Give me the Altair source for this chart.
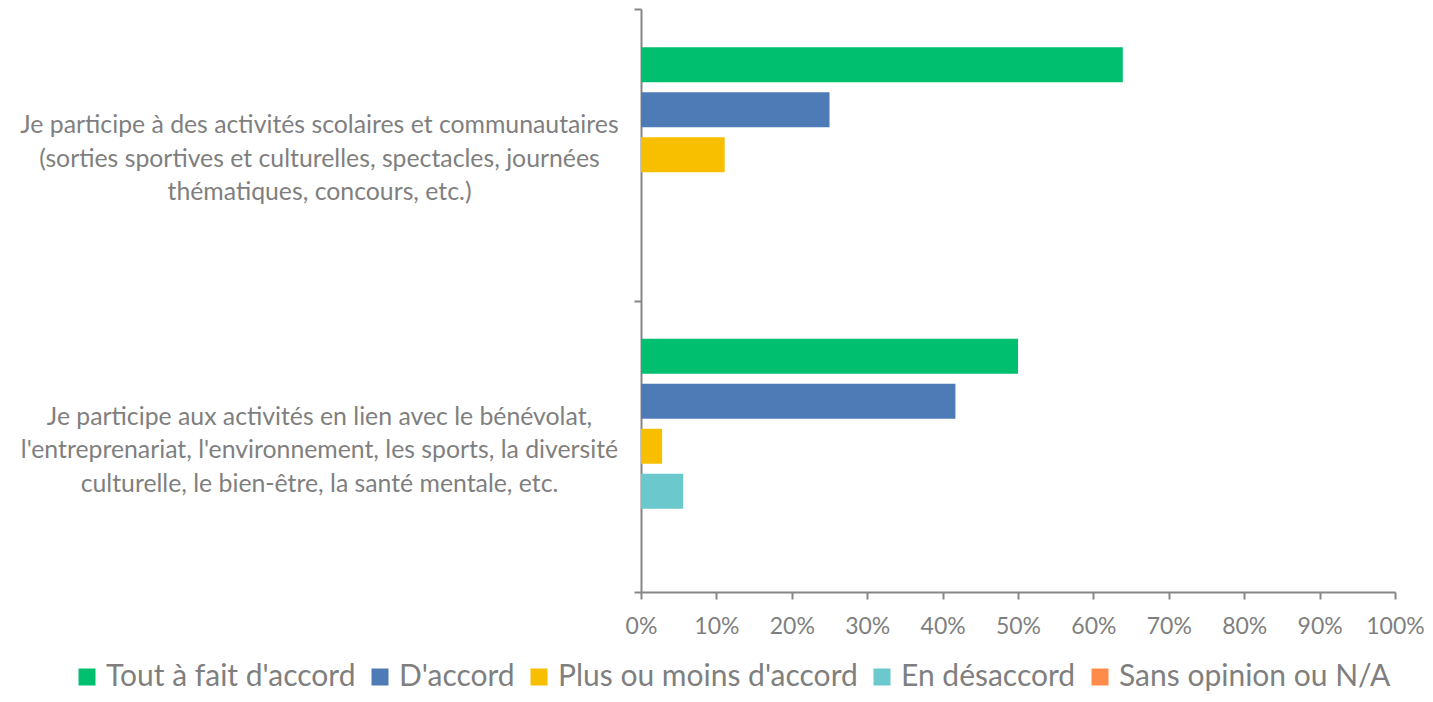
import altair as alt
import pandas as pd

categories = [
    "Je participe à des activités scolaires et communautaires\n(sorties sportives et culturelles, spectacles, journées\nthématiques, concours, etc.)",
    "Je participe aux activités en lien avec le bénévolat,\nl'entreprenariat, l'environnement, les sports, la diversité\nculturelle, le bien-être, la santé mentale, etc.",
]
series = ["Tout à fait d'accord", "D'accord", "Plus ou moins d'accord", "En désaccord", "Sans opinion ou N/A"]
values_cat1 = [0.639, 0.25, 0.111, 0.0, 0.0]
values_cat2 = [0.50, 0.417, 0.028, 0.056, 0.0]
colors = ["#00BF6F", "#4E7BB5", "#F8BF00", "#6BC8CC", "#FF8B4A"]
tick_values = [0, 0.1, 0.2, 0.3, 0.4, 0.5, 0.6, 0.7, 0.8, 0.9, 1.0]

rows = []
for cat, vals in zip(categories, [values_cat1, values_cat2]):
    for s, v in zip(series, vals):
        rows.append({"category": cat, "series": s, "value": v})
df = pd.DataFrame(rows)

text_color = "#7F7F7F"
axis_color = "#868686"

chart = alt.Chart(df).mark_bar(strokeWidth=0).encode(
    x=alt.X(
        "value:Q",
        scale=alt.Scale(domain=[0, 1], nice=False),
        axis=alt.Axis(
            format=".0%", values=tick_values, title=None, grid=False,
            tickSize=7, tickColor=axis_color, domainColor=axis_color,
            tickWidth=2, domainWidth=2, labelFlush=False, labelOverlap=False,
            labelFontSize=23, labelColor=text_color, labelPadding=16,
        ),
    ),
    y=alt.Y(
        "category:N",
        sort=categories,
        scale=alt.Scale(paddingInner=0, paddingOuter=0),
        axis=alt.Axis(
            title=None, tickBand="extent", tickSize=7, tickColor=axis_color,
            domainColor=axis_color, tickWidth=2, domainWidth=2,
            labelExpr="split(datum.label, '\\n')",
            labelAlign="center", labelBaseline="middle", labelPadding=315,
            labelOffset=-29,
            labelLineHeight=33.5, labelFontSize=24.8, labelColor=text_color,
            labelLimit=800,
        ),
    ),
    yOffset=alt.YOffset(
        "series:N", sort=series,
        scale=alt.Scale(paddingInner=0.222, paddingOuter=0.85),
    ),
    color=alt.Color(
        "series:N",
        scale=alt.Scale(domain=series, range=colors),
        legend=alt.Legend(
            orient="none", legendX=-569, legendY=653, direction="horizontal",
            columns=5, title=None, symbolType="square", symbolSize=289,
            symbolStrokeWidth=0, symbolOpacity=1, labelFontSize=30,
            labelColor=text_color, labelOffset=4, columnPadding=9,
            labelLimit=600,
        ),
    ),
).properties(
    width=754,
    height=583,
    autosize=alt.AutoSizeParams(type="none"),
    padding={"left": 633, "top": 1, "right": 30, "bottom": 102},
).configure(font="Lato").configure_view(stroke=None)

chart.save("out.html", embed_options={"renderer": "svg", "actions": False})
